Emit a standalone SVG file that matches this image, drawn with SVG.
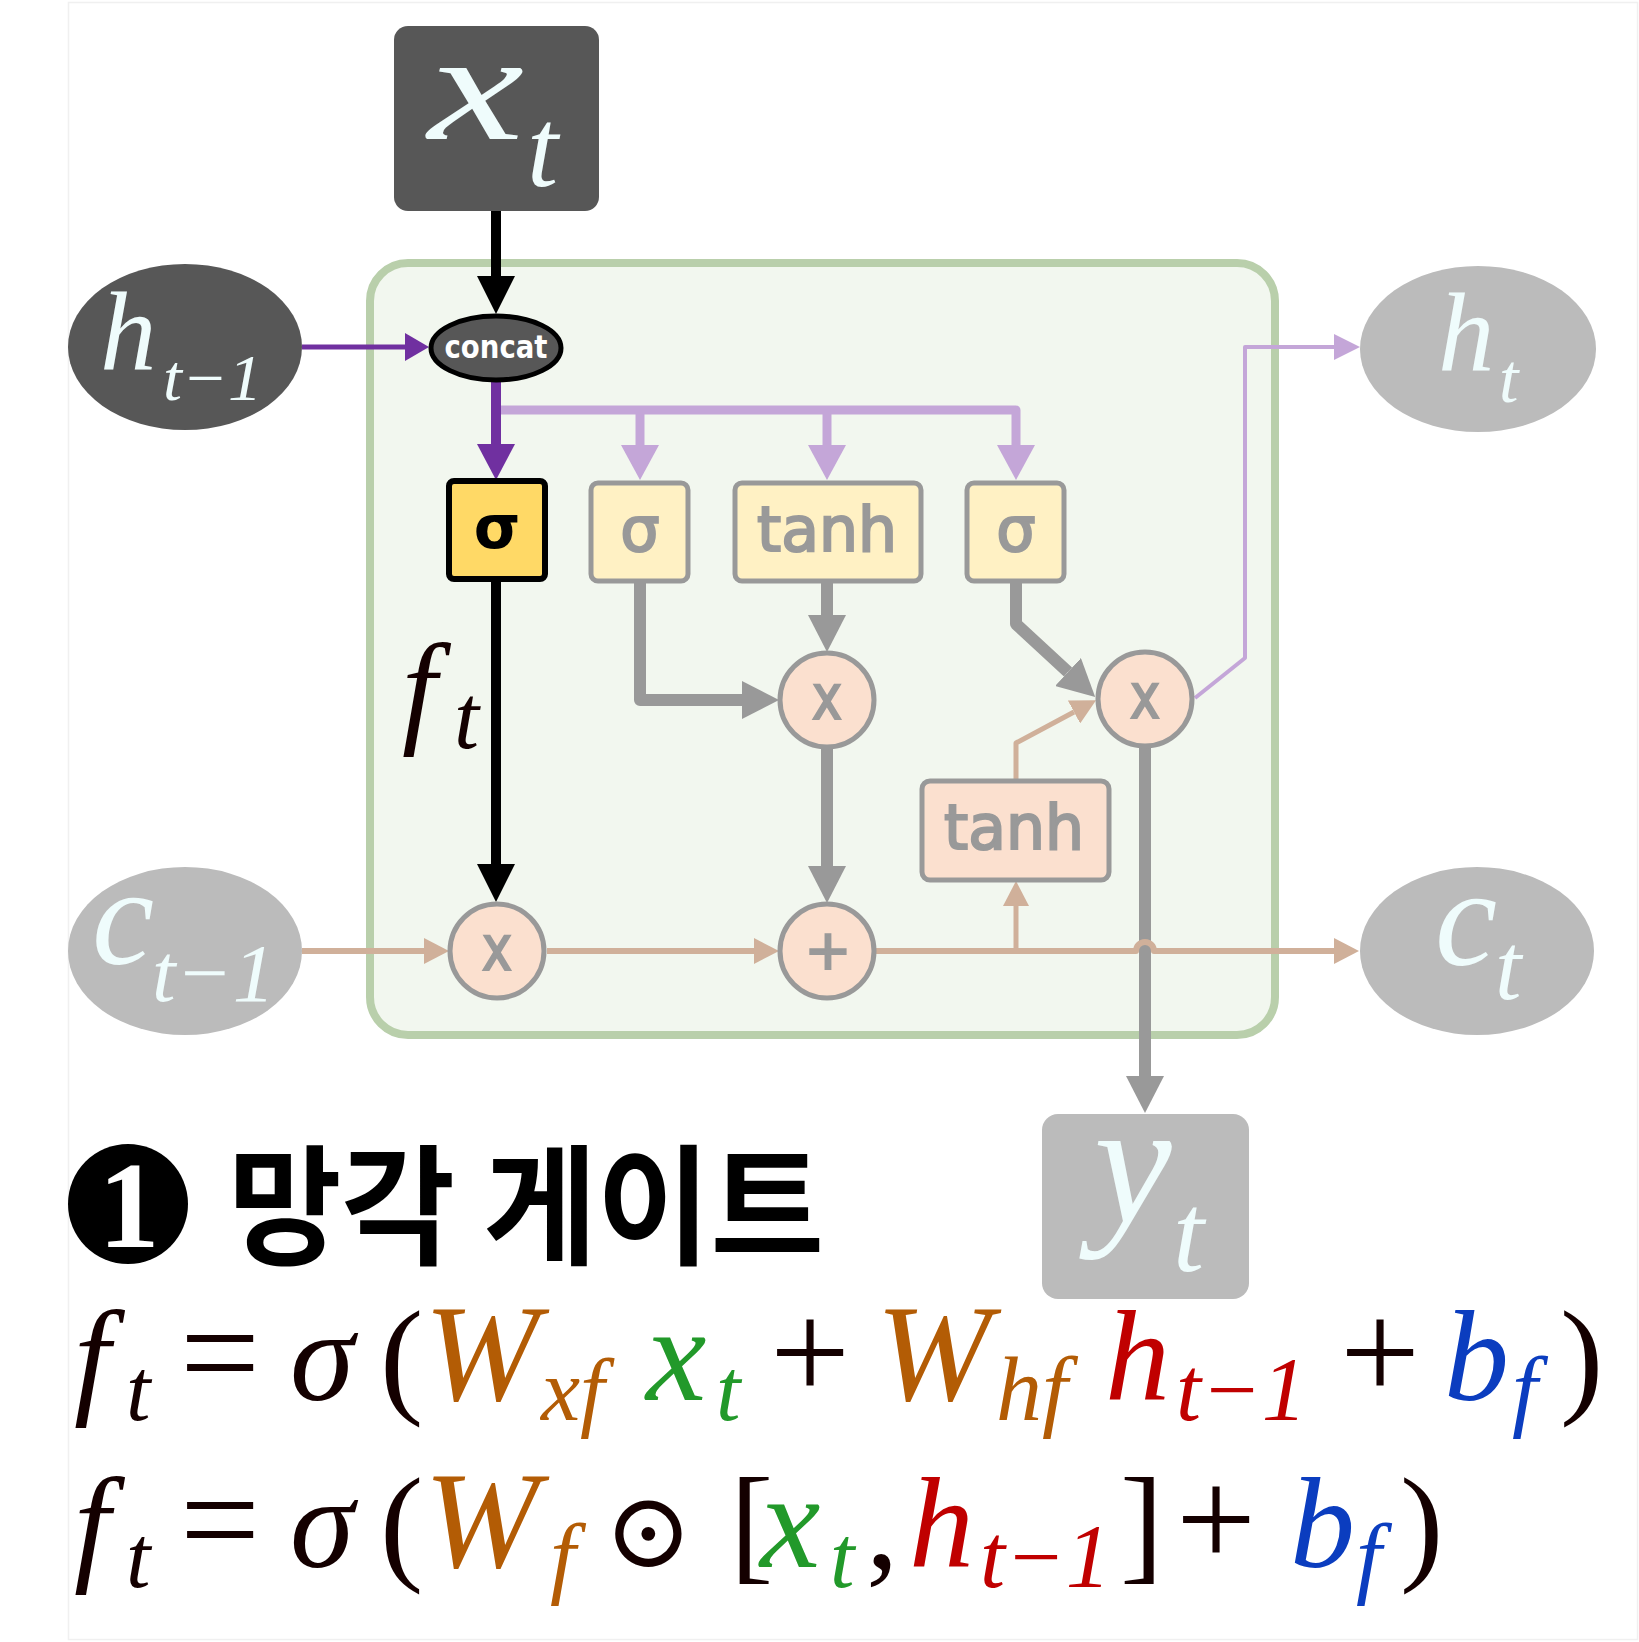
<svg xmlns="http://www.w3.org/2000/svg" width="1639" height="1642" viewBox="0 0 1639 1642">
<defs>
<style>
.m{font-family:"Liberation Serif","DejaVu Serif",serif;font-style:italic}
.r{font-family:"Liberation Serif","DejaVu Serif",serif;font-style:normal}
.wm{fill:#effcfc}
.lab{font-family:"DejaVu Sans",sans-serif;text-anchor:middle}
.gl{fill:#999999;stroke:#999999;stroke-width:2.2}
.op{fill:#fbe0cf;stroke:#999999;stroke-width:5}
.lbox{fill:#fff1c4;stroke:#999999;stroke-width:5}
.k{fill:#140000}.br{fill:#b35c05}.gr{fill:#22992a}.rd{fill:#c00000}.bl{fill:#0b3dbf}
.c{fill:none;stroke-linejoin:round}
</style>
<marker id="aBlk" markerUnits="userSpaceOnUse" markerWidth="38" markerHeight="38" refX="0" refY="19" orient="auto"><path d="M0,0 L38,19 L0,38 z" fill="#000"/></marker>
<marker id="aPur" markerUnits="userSpaceOnUse" markerWidth="36" markerHeight="38" refX="0" refY="19" orient="auto"><path d="M0,0 L36,19 L0,38 z" fill="#7030a0"/></marker>
<marker id="aPurS" markerUnits="userSpaceOnUse" markerWidth="24" markerHeight="28" refX="0" refY="14" orient="auto"><path d="M0,0 L24,14 L0,28 z" fill="#7030a0"/></marker>
<marker id="aLil" markerUnits="userSpaceOnUse" markerWidth="35" markerHeight="38" refX="0" refY="19" orient="auto"><path d="M0,0 L35,19 L0,38 z" fill="#c4a6d8"/></marker>
<marker id="aLilS" markerUnits="userSpaceOnUse" markerWidth="26" markerHeight="26" refX="0" refY="13" orient="auto"><path d="M0,0 L26,13 L0,26 z" fill="#c4a6d8"/></marker>
<marker id="aGry" markerUnits="userSpaceOnUse" markerWidth="37" markerHeight="38" refX="0" refY="19" orient="auto"><path d="M0,0 L37,19 L0,38 z" fill="#999999"/></marker>
<marker id="aTan" markerUnits="userSpaceOnUse" markerWidth="25" markerHeight="26" refX="0" refY="13" orient="auto"><path d="M0,0 L25,13 L0,26 z" fill="#d0b09a"/></marker>
</defs>
<rect x="0" y="0" width="1639" height="1642" fill="#ffffff"/>
<rect x="68.5" y="2.5" width="1569" height="1637" fill="none" stroke="#f0f0f0" stroke-width="1.5"/>

<g id="cell">
<rect x="370" y="263" width="905" height="772" rx="38" fill="#f2f7ef" stroke="#b9cfab" stroke-width="8"/>
</g>

<g id="connectors">
<path class="c" d="M496,211 V276" stroke="#000" stroke-width="10" marker-end="url(#aBlk)"/>
<path class="c" d="M302,347 H405" stroke="#7030a0" stroke-width="5" marker-end="url(#aPurS)"/>
<path class="c" d="M496,410 H1016 V445" stroke="#c4a6d8" stroke-width="9" marker-end="url(#aLil)"/>
<path class="c" d="M640,410 V445" stroke="#c4a6d8" stroke-width="9" marker-end="url(#aLil)"/>
<path class="c" d="M827,410 V445" stroke="#c4a6d8" stroke-width="9" marker-end="url(#aLil)"/>
<path class="c" d="M496,381 V444" stroke="#7030a0" stroke-width="10" marker-end="url(#aPur)"/>
<path class="c" d="M496,580 V864" stroke="#000" stroke-width="10" marker-end="url(#aBlk)"/>
<path class="c" d="M640,582 V700 H742" stroke="#999999" stroke-width="12" marker-end="url(#aGry)"/>
<path class="c" d="M827,582 V615" stroke="#999999" stroke-width="12" marker-end="url(#aGry)"/>
<path class="c" d="M827,749 V866" stroke="#999999" stroke-width="12" marker-end="url(#aGry)"/>
<path class="c" d="M1016,582 V624 L1068,672" stroke="#999999" stroke-width="12" marker-end="url(#aGry)"/>
<path class="c" d="M1145,748 V1076" stroke="#999999" stroke-width="12" marker-end="url(#aGry)"/>
<path class="c" d="M1195,698 L1245,658 V347 H1334" stroke="#c4a6d8" stroke-width="4" marker-end="url(#aLilS)"/>
<path class="c" d="M302,951 H424" stroke="#d0b09a" stroke-width="6" marker-end="url(#aTan)"/>
<path class="c" d="M547,951 H754" stroke="#d0b09a" stroke-width="6" marker-end="url(#aTan)"/>
<path class="c" d="M876,951 H1136 A9,9 0 0 1 1154,951 H1334" stroke="#d0b09a" stroke-width="6" marker-end="url(#aTan)"/>
<path class="c" d="M1016,951 V906" stroke="#d0b09a" stroke-width="5" marker-end="url(#aTan)"/>
<path class="c" d="M1016,781 V743 L1074,712" stroke="#d0b09a" stroke-width="5" marker-end="url(#aTan)"/>
</g>

<g id="node-xt">
<rect x="394" y="26" width="205" height="185" rx="14" fill="#575757"/>
<text class="m wm" x="428" y="139" font-size="155" textLength="96" lengthAdjust="spacingAndGlyphs">x</text>
<text class="m wm" x="527" y="186" font-size="112">t</text>
</g>
<g id="node-htm1">
<ellipse cx="185" cy="347" rx="117" ry="83" fill="#575757"/>
<text class="m wm" x="100" y="370" font-size="113">h</text>
<text class="m wm" x="163" y="400" font-size="66" textLength="99" lengthAdjust="spacingAndGlyphs">t−1</text>
</g>
<g id="node-concat">
<ellipse cx="496" cy="348" rx="65" ry="32" fill="#575757" stroke="#000" stroke-width="5"/>
<text class="lab" x="496" y="358" font-size="32" font-weight="bold" fill="#fff" textLength="103" lengthAdjust="spacingAndGlyphs">concat</text>
</g>
<g id="node-sigma-f">
<rect x="449" y="481" width="96" height="98" rx="5" fill="#ffd966" stroke="#000" stroke-width="6"/>
<text class="lab" x="497" y="548" font-size="60" font-weight="bold" fill="#000">σ</text>
</g>
<g id="node-sigma-i">
<rect class="lbox" x="591" y="483" width="97" height="98" rx="7"/>
<text class="lab gl" x="640" y="551" font-size="62">σ</text>
</g>
<g id="node-tanh-g">
<rect class="lbox" x="735" y="483" width="186" height="98" rx="7"/>
<text class="lab gl" x="827" y="551" font-size="62" textLength="140" lengthAdjust="spacingAndGlyphs">tanh</text>
</g>
<g id="node-sigma-o">
<rect class="lbox" x="967" y="483" width="97" height="98" rx="7"/>
<text class="lab gl" x="1016" y="551" font-size="62">σ</text>
</g>
<g id="node-ft-label">
<text class="m k" x="402" y="730" font-size="125">f</text>
<text class="m k" x="454" y="748" font-size="90">t</text>
</g>
<g id="node-mul-f">
<circle class="op" cx="497" cy="951" r="47"/>
<text class="lab gl" x="497" y="970" font-size="62" textLength="30" lengthAdjust="spacingAndGlyphs">x</text>
</g>
<g id="node-mul-i">
<circle class="op" cx="827" cy="700" r="47"/>
<text class="lab gl" x="827" y="719" font-size="62" textLength="30" lengthAdjust="spacingAndGlyphs">x</text>
</g>
<g id="node-add">
<circle class="op" cx="827" cy="951" r="47"/>
<text class="lab gl" x="828" y="969" font-size="56">+</text>
</g>
<g id="node-mul-o">
<circle class="op" cx="1145" cy="699" r="47"/>
<text class="lab gl" x="1145" y="718" font-size="62" textLength="30" lengthAdjust="spacingAndGlyphs">x</text>
</g>
<g id="node-tanh-c">
<rect x="922" y="781" width="187" height="99" rx="8" fill="#fbe0cf" stroke="#999999" stroke-width="5"/>
<text class="lab gl" x="1014" y="849" font-size="62" textLength="140" lengthAdjust="spacingAndGlyphs">tanh</text>
</g>
<g id="node-ctm1">
<ellipse cx="185" cy="951" rx="117" ry="84" fill="#bbbbbb"/>
<text class="m wm" x="92" y="964" font-size="140">c</text>
<text class="m wm" x="152" y="1001" font-size="83" textLength="123" lengthAdjust="spacingAndGlyphs">t−1</text>
</g>
<g id="node-ct">
<ellipse cx="1477" cy="951" rx="117" ry="84" fill="#bbbbbb"/>
<text class="m wm" x="1435" y="965" font-size="140">c</text>
<text class="m wm" x="1495" y="999" font-size="95">t</text>
</g>
<g id="node-ht">
<ellipse cx="1478" cy="349" rx="118" ry="83" fill="#bbbbbb"/>
<text class="m wm" x="1438" y="371" font-size="113">h</text>
<text class="m wm" x="1499" y="402" font-size="70">t</text>
</g>
<g id="node-yt">
<rect x="1042" y="1114" width="207" height="185" rx="16" fill="#bbbbbb"/>
<text class="m wm" x="1094" y="1222" font-size="175">y</text>
<text class="m wm" x="1173" y="1271" font-size="112">t</text>
</g>

<g id="title">
<circle cx="128" cy="1204" r="60" fill="#000"/>
<text class="r" x="129" y="1247" font-size="122" font-weight="bold" fill="#fff" text-anchor="middle">1</text>
<text x="228" y="1254" font-family="'Noto Sans CJK KR',sans-serif" font-weight="bold" font-size="130" fill="#000" textLength="596" lengthAdjust="spacingAndGlyphs">망각 게이트</text>
</g>

<g id="eq1">
<text class="m k" font-size="130" y="1400"><tspan x="74">f</tspan><tspan x="126" y="1420" font-size="88">t</tspan><tspan class="r" x="180" y="1400" font-size="142">=</tspan><tspan x="290">σ</tspan><tspan class="r" x="380">(</tspan><tspan class="br" x="424" font-size="138">W</tspan><tspan class="br" x="541" y="1420" font-size="88">xf</tspan><tspan class="gr" x="646" y="1400" font-size="136">x</tspan><tspan class="gr" x="716" y="1420" font-size="88">t</tspan><tspan class="r" x="770" y="1400" font-size="142">+</tspan><tspan class="br" x="876" font-size="138">W</tspan><tspan class="br" x="996" y="1420" font-size="92">hf</tspan><tspan class="rd" x="1105" y="1400">h</tspan><tspan class="rd" x="1176" y="1420" font-size="90">t−1</tspan><tspan class="r" x="1340" y="1400" font-size="142">+</tspan><tspan class="bl" x="1444">b</tspan><tspan class="bl" x="1512" y="1420" font-size="92">f</tspan><tspan class="r" x="1560" y="1400">)</tspan></text>
</g>
<g id="eq2">
<text class="m k" font-size="130" y="1567"><tspan x="74">f</tspan><tspan x="126" y="1587" font-size="88">t</tspan><tspan class="r" x="180" y="1567" font-size="142">=</tspan><tspan x="290">σ</tspan><tspan class="r" x="380">(</tspan><tspan class="br" x="424" font-size="138">W</tspan><tspan class="br" x="550" y="1587" font-size="92">f</tspan><tspan class="r" x="604" y="1567" font-family="'DejaVu Sans',sans-serif" font-size="106">⊙</tspan><tspan class="r" x="730">[</tspan><tspan class="gr" x="760" font-size="136">x</tspan><tspan class="gr" x="830" y="1587" font-size="88">t</tspan><tspan class="r" x="866" y="1567">,</tspan><tspan class="rd" x="909">h</tspan><tspan class="rd" x="980" y="1587" font-size="90">t−1</tspan><tspan class="r" x="1120" y="1567">]</tspan><tspan class="r" x="1176" font-size="142">+</tspan><tspan class="bl" x="1290">b</tspan><tspan class="bl" x="1356" y="1587" font-size="92">f</tspan><tspan class="r" x="1400" y="1567">)</tspan></text>
</g>
</svg>
